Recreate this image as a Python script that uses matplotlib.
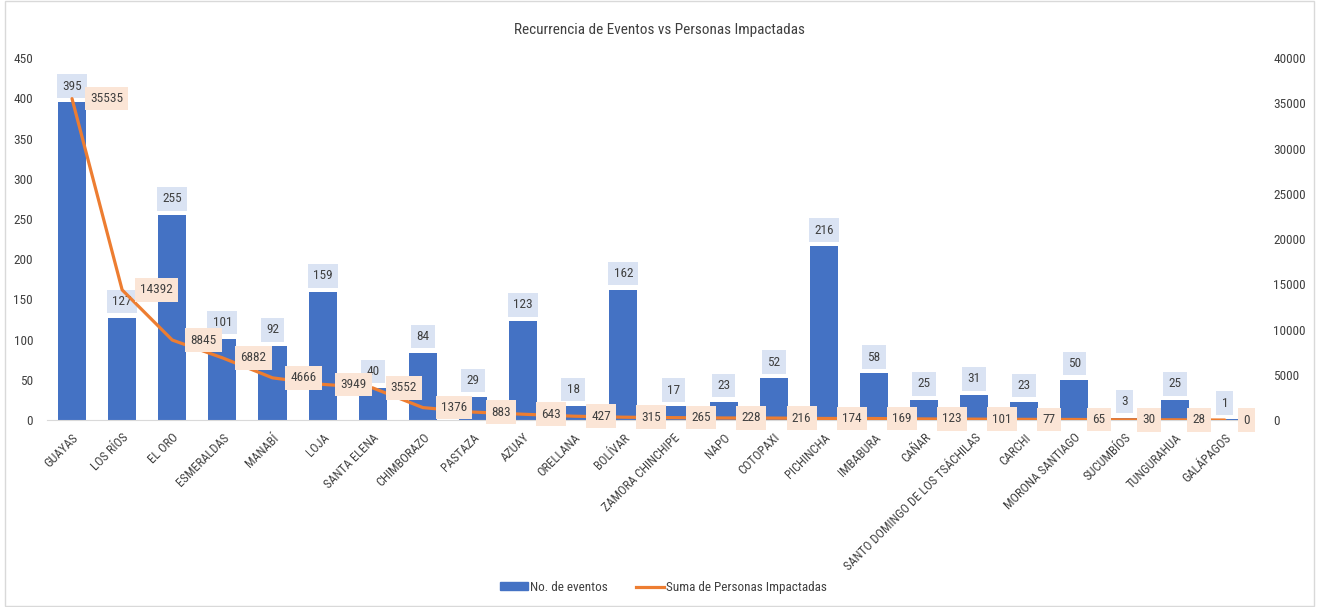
import matplotlib
matplotlib.use("Agg")
import matplotlib.pyplot as plt
from matplotlib import font_manager
from matplotlib.patches import Rectangle

ttf = font_manager.fontManager.ttflist
names = {f.name for f in ttf}
fam, stretch = "DejaVu Sans", "normal"
for cand in ["Roboto Condensed", "Liberation Sans Narrow", "Open Sans Condensed",
             "DejaVu Sans Condensed"]:
    if cand in names:
        fam = cand
        break
else:
    for f in ttf:
        if "condensed" in str(f.stretch).lower() and f.name in ("DejaVu Sans", "Roboto", "Open Sans", "Noto Sans"):
            fam, stretch = f.name, "condensed"
            break
plt.rcParams["font.family"] = [fam, "DejaVu Sans"]
plt.rcParams["font.stretch"] = stretch

provincias = ["GUAYAS", "LOS RÍOS", "EL ORO", "ESMERALDAS", "MANABÍ", "LOJA",
              "SANTA ELENA", "CHIMBORAZO", "PASTAZA", "AZUAY", "ORELLANA", "BOLÍVAR",
              "ZAMORA CHINCHIPE", "NAPO", "COTOPAXI", "PICHINCHA", "IMBABURA", "CAÑAR",
              "SANTO DOMINGO DE LOS TSÁCHILAS", "CARCHI", "MORONA SANTIAGO", "SUCUMBÍOS",
              "TUNGURAHUA", "GALÁPAGOS"]
eventos = [395, 127, 255, 101, 92, 159, 40, 84, 29, 123, 18, 162, 17, 23, 52, 216,
           58, 25, 31, 23, 50, 3, 25, 1]
personas = [35535, 14392, 8845, 6882, 4666, 3949, 3552, 1376, 883, 643, 427, 315,
            265, 228, 216, 174, 169, 123, 101, 77, 65, 30, 28, 0]
ticks_izq = list(range(0, 451, 50))
ticks_der = list(range(0, 40001, 5000))

BLUE = "#4472C4"
ORANGE = "#ED7D31"
TXT = "#404040"
FS = 9.5

fig = plt.figure(figsize=(13.19, 6.07), dpi=100)
fig.patches.append(Rectangle((0.004, 0.002), 0.992, 0.996, transform=fig.transFigure,
                             fill=False, edgecolor="#D9D9D9", linewidth=1))
ax = fig.add_axes([0.0356, 0.308, 0.912, 0.596])
ax2 = ax.twinx()

x = list(range(len(provincias)))
ax.bar(x, eventos, width=0.56, color=BLUE, zorder=2)
ax.set_ylim(0, 450)
ax.set_xlim(-0.5, len(provincias) - 0.5)
ax.set_yticks(ticks_izq)
ax2.set_ylim(0, 40000)
ax2.set_yticks(ticks_der)

ax2.plot(x, personas, color=ORANGE, linewidth=2.3, zorder=3, solid_capstyle="round")

for a in (ax, ax2):
    for s in a.spines.values():
        s.set_visible(False)
    a.tick_params(length=0, labelsize=FS, colors=TXT)
ax.spines["bottom"].set_visible(True)
ax.spines["bottom"].set_color("#D9D9D9")
ax.tick_params(axis="y", pad=10)
ax2.tick_params(axis="y", which="both", pad=17, labelright=True)

ax.set_xticks(x)
ax.set_xticklabels(provincias, rotation=45, ha="right", rotation_mode="anchor",
                   fontsize=9)
ax.tick_params(axis="x", pad=8)

for xi, v in zip(x, eventos):
    ax.annotate(str(v), (xi, v), xytext=(0, 7), textcoords="offset points",
                ha="center", va="bottom", fontsize=FS, color=TXT, zorder=5,
                bbox=dict(boxstyle="square,pad=0.4", fc="#DAE3F3", ec="none"))
for xi, v in zip(x, personas):
    ax2.annotate(str(v), (xi, v), xytext=(13, 0), textcoords="offset points",
                 ha="left", va="center", fontsize=FS, color=TXT, zorder=6,
                 bbox=dict(boxstyle="square,pad=0.4", fc="#FBE5D6", ec="none"))

fig.text(0.5, 0.95, "Recurrencia de Eventos vs Personas Impactadas", ha="center",
         va="center", fontsize=11, color=TXT)

h1 = plt.Rectangle((0, 0), 1, 1, color=BLUE)
h2 = plt.Line2D([0], [0], color=ORANGE, linewidth=2.3)
fig.legend([h1, h2], ["No. de eventos", "Suma de Personas Impactadas"],
           loc="center", bbox_to_anchor=(0.503, 0.032), ncol=2, frameon=False,
           fontsize=FS, labelcolor=TXT, handlelength=2.1, handleheight=0.55,
           columnspacing=2.2, handletextpad=0.15)

fig.savefig("out.png", dpi=100)
